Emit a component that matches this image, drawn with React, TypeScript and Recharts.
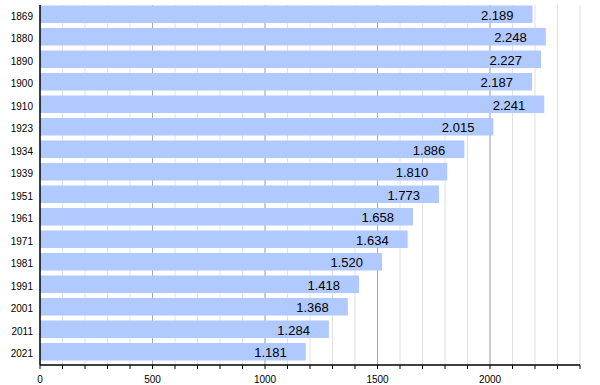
import React from 'react';
import { BarChart, Bar, XAxis, YAxis, CartesianGrid, LabelList } from 'recharts';

const years = ['1869', '1880', '1890', '1900', '1910', '1923', '1934', '1939', '1951', '1961', '1971', '1981', '1991', '2001', '2011', '2021'];
const population = [2189, 2248, 2227, 2187, 2241, 2015, 1886, 1810, 1773, 1658, 1634, 1520, 1418, 1368, 1284, 1181];
const majorTicks = [0, 500, 1000, 1500, 2000];
const allTicks = [0, 100, 200, 300, 400, 500, 600, 700, 800, 900, 1000, 1100, 1200, 1300, 1400, 1500, 1600, 1700, 1800, 1900, 2000, 2100, 2200, 2300, 2400];
const xDomain = [0, 2400];

const data = years.map((y, i) => ({ year: y, value: population[i] }));

const fmt = (v: number) => {
  const s = String(v);
  return s.length > 3 ? s.slice(0, s.length - 3) + '.' + s.slice(s.length - 3) : s;
};

const SHIFT = 2.5;

const BarShape = (props: any) => {
  const { x, y, width, height } = props;
  return <rect x={x} y={y - SHIFT} width={width} height={height} fill="#b0c9ff" />;
};

const ValueLabel = (props: any) => {
  const { x, y, width, height, value } = props;
  return (
    <text
      x={x + width - 19}
      y={y - SHIFT + height / 2 + 1}
      textAnchor="end"
      dominantBaseline="central"
      fontSize={13}
      fill="#000"
      fontFamily="Liberation Sans, Arial, sans-serif"
    >
      {fmt(value)}
    </text>
  );
};

const genCoords = (vals: number[]) => (args: any) => {
  const { xAxis, offset } = args;
  if (xAxis && typeof xAxis.scale === 'function') {
    return vals.map((v) => xAxis.scale(v));
  }
  return vals.map((v) => offset.left + ((v - xDomain[0]) / (xDomain[1] - xDomain[0])) * offset.width);
};

export default function App() {
  return (
    <div style={{ position: 'absolute', left: 0, top: 0, fontFamily: 'Liberation Sans, Arial, sans-serif' }}>
      <BarChart
        width={600}
        height={385}
        data={data}
        layout="vertical"
        margin={{ top: 5, right: 20, left: 0, bottom: 0 }}
        barSize={17.5}
      >
        <CartesianGrid
          horizontal={false}
          stroke="#e0e0e0"
          verticalCoordinatesGenerator={genCoords(allTicks.slice(1))}
        />
        <CartesianGrid
          horizontal={false}
          stroke="#a8a8a8"
          verticalCoordinatesGenerator={genCoords(majorTicks.slice(1))}
        />
        <XAxis
          type="number"
          domain={xDomain}
          ticks={allTicks}
          interval={0}
          tickFormatter={(v: number) => (majorTicks.includes(v) ? String(v) : '')}
          height={20}
          tickSize={4}
          tickMargin={7}
          axisLine={{ stroke: '#000', strokeWidth: 1.5 }}
          tickLine={{ stroke: '#000' }}
          tick={{ fontSize: 10, fill: '#000' }}
        />
        <YAxis
          type="category"
          dataKey="year"
          width={40}
          tickLine={false}
          tickSize={5}
          tickMargin={2}
          axisLine={{ stroke: '#000', strokeWidth: 1.5 }}
          tick={{ fontSize: 10, fill: '#000' }}
        />
        <Bar dataKey="value" isAnimationActive={false} shape={BarShape}>
          <LabelList dataKey="value" content={ValueLabel} />
        </Bar>
      </BarChart>
    </div>
  );
}
